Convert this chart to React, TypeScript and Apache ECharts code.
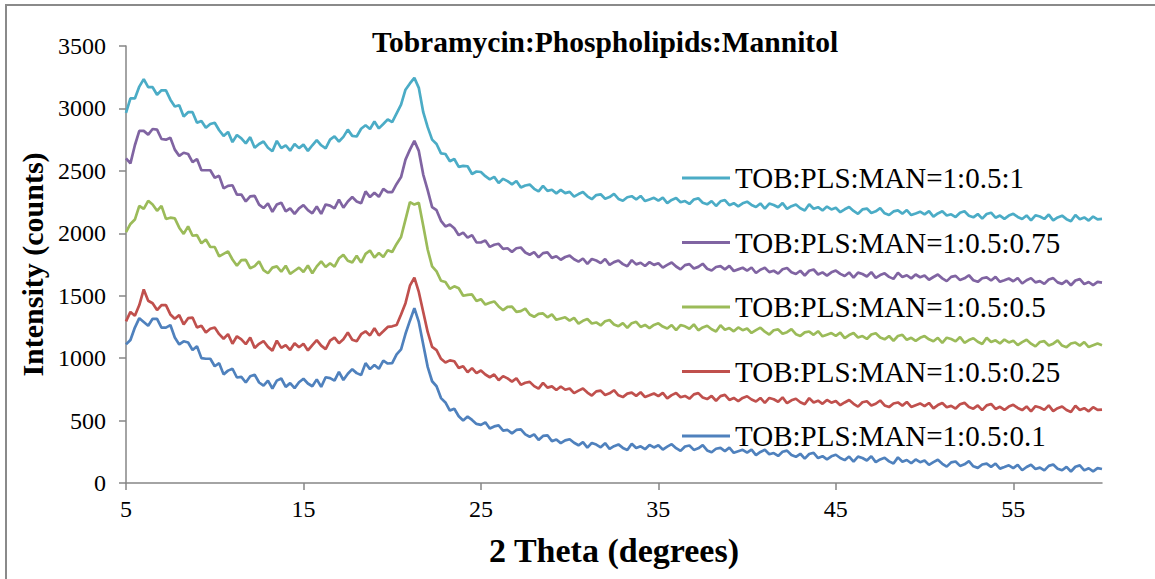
import React, { useEffect, useRef } from "react";
import * as echarts from "echarts";

const chartTitle = "Tobramycin:Phospholipids:Mannitol";
const xAxisTitle = "2 Theta (degrees)";
const yAxisTitle = "Intensity (counts)";
const xTickValues = [5, 15, 25, 35, 45, 55];
const yMin = 0;
const yMax = 3500;
const yStep = 500;
const thetaStart = 5;
const thetaStep = 0.25;

const seriesNames = [
  "TOB:PLS:MAN=1:0.5:0.1",
  "TOB:PLS:MAN=1:0.5:0.25",
  "TOB:PLS:MAN=1:0.5:0.5",
  "TOB:PLS:MAN=1:0.5:0.75",
  "TOB:PLS:MAN=1:0.5:1",
];
const legendOrder = [
  "TOB:PLS:MAN=1:0.5:1",
  "TOB:PLS:MAN=1:0.5:0.75",
  "TOB:PLS:MAN=1:0.5:0.5",
  "TOB:PLS:MAN=1:0.5:0.25",
  "TOB:PLS:MAN=1:0.5:0.1",
];
const seriesColors = ["#4F81BD", "#C0504D", "#9BBB59", "#8064A2", "#4BACC6"];

// intensity (counts), sampled every 0.25 degree from 5 to 60
const man01 = [
  1110,1145,1245,1320,1290,1260,1315,1315,1245,1245,1265,1165,1110,1135,1125,1065,1095,1000,995,995,
  935,960,870,900,915,845,850,805,855,867,805,780,820,757,820,837,770,800,760,807,
  835,797,775,830,770,847,840,820,890,825,875,912,880,865,960,912,945,915,980,957,
  960,1030,1070,1195,1300,1400,1290,1110,930,815,775,680,645,580,595,535,500,532,505,473,
  466,486,436,453,461,420,425,397,425,429,389,370,389,345,377,382,335,348,319,341,
  351,322,302,327,283,321,308,286,319,273,295,309,281,265,315,280,294,271,305,285,
  302,268,291,311,279,257,292,300,265,278,303,261,246,274,281,255,283,242,254,266,
  243,268,224,249,266,230,240,217,250,259,224,210,234,195,232,242,200,215,189,214,
  226,200,183,212,171,211,200,180,214,167,189,202,173,156,205,170,184,158,189,167,
  180,145,167,186,154,131,165,172,137,150,175,134,121,148,155,129,156,115,128,142,
  119,145,102,128,146,112,123,101,137,148,114,102,129,92,130,141,101,118,93,119,
  112,
];
const man025 = [
  1295,1370,1340,1425,1550,1460,1440,1385,1425,1425,1350,1315,1345,1270,1320,1325,1245,1260,1205,1235,
  1245,1192,1155,1192,1115,1175,1150,1112,1165,1082,1115,1137,1090,1060,1140,1082,1105,1065,1120,1087,
  1115,1062,1105,1145,1100,1072,1140,1165,1120,1152,1205,1147,1135,1192,1215,1182,1240,1182,1215,1250,
  1255,1265,1350,1440,1580,1645,1530,1370,1210,1090,1065,995,965,982,975,922,935,887,920,880,
  901,869,847,869,823,856,838,812,839,786,803,810,776,756,802,764,774,745,773,747,
  757,720,740,757,724,700,734,740,705,718,743,702,688,716,724,698,727,688,702,717,
  696,722,678,704,721,687,697,675,710,720,685,672,697,659,696,706,665,681,656,681,
  695,669,653,681,641,681,671,651,686,639,662,675,647,630,680,645,659,634,665,643,
  657,623,645,665,634,612,647,655,621,635,661,621,608,637,645,620,649,609,623,637,
  615,641,598,624,641,607,618,596,631,642,608,595,621,584,622,633,593,610,585,612,
  626,601,584,613,573,615,605,586,622,576,599,613,585,569,619,585,599,574,607,585,
  588,
];
const man05 = [
  2010,2075,2110,2220,2195,2260,2230,2180,2220,2115,2125,2120,2045,1995,2055,1980,1985,1920,1950,1890,
  1890,1815,1835,1855,1790,1740,1785,1787,1720,1737,1775,1705,1680,1725,1735,1692,1740,1675,1700,1725,
  1690,1742,1680,1735,1775,1730,1760,1732,1800,1827,1780,1767,1820,1765,1835,1862,1805,1842,1810,1865,
  1850,1915,1970,2110,2250,2230,2245,2060,1870,1735,1695,1620,1610,1555,1575,1560,1500,1507,1510,1457,
  1472,1429,1443,1454,1414,1384,1411,1412,1370,1377,1397,1350,1331,1355,1358,1327,1351,1307,1317,1327,
  1301,1323,1277,1299,1313,1277,1286,1262,1295,1305,1270,1256,1281,1243,1280,1291,1250,1266,1240,1266,
  1279,1253,1237,1265,1225,1265,1255,1235,1270,1223,1246,1259,1231,1214,1263,1228,1241,1215,1246,1224,
  1237,1202,1224,1244,1212,1189,1223,1230,1195,1208,1233,1192,1178,1206,1213,1187,1216,1175,1188,1201,
  1179,1204,1160,1185,1201,1166,1177,1154,1189,1199,1165,1151,1177,1139,1177,1187,1147,1163,1138,1163,
  1177,1151,1135,1163,1123,1164,1153,1134,1169,1123,1145,1159,1131,1114,1164,1129,1143,1117,1149,1126,
  1140,1105,1128,1147,1116,1094,1129,1136,1102,1116,1142,1101,1088,1117,1125,1100,1129,1089,1103,1117,
  1104,
];
const man075 = [
  2600,2560,2705,2820,2820,2790,2835,2830,2755,2750,2765,2670,2620,2645,2635,2570,2595,2505,2505,2505,
  2445,2460,2360,2380,2385,2310,2310,2255,2295,2300,2230,2202,2240,2172,2230,2245,2175,2200,2155,2200,
  2225,2185,2160,2215,2155,2231,2222,2200,2270,2205,2255,2290,2255,2240,2335,2290,2325,2292,2355,2330,
  2330,2395,2450,2590,2670,2740,2660,2470,2345,2210,2185,2100,2055,2070,2040,1985,2005,1965,1985,1927,
  1926,1943,1891,1908,1916,1875,1880,1851,1880,1886,1846,1828,1849,1807,1841,1847,1803,1816,1788,1810,
  1821,1792,1773,1798,1755,1794,1782,1761,1794,1747,1769,1782,1753,1736,1785,1751,1764,1738,1769,1747,
  1760,1725,1747,1766,1734,1711,1745,1753,1718,1731,1756,1716,1702,1730,1737,1711,1739,1698,1711,1724,
  1701,1726,1682,1708,1724,1689,1700,1677,1712,1722,1688,1674,1700,1662,1700,1710,1670,1687,1661,1687,
  1701,1675,1658,1686,1645,1685,1674,1654,1689,1643,1665,1679,1651,1635,1684,1650,1664,1639,1670,1648,
  1662,1628,1650,1670,1639,1617,1651,1659,1625,1639,1664,1624,1611,1640,1647,1622,1651,1611,1624,1638,
  1616,1642,1598,1624,1641,1607,1617,1595,1630,1641,1607,1595,1621,1584,1622,1633,1593,1610,1585,1611,
  1605,
];
const man1 = [
  2965,3080,3080,3175,3235,3170,3170,3110,3145,3145,3070,3015,3025,2935,2970,2970,2885,2900,2845,2875,
  2885,2825,2780,2812,2730,2787,2760,2720,2770,2685,2715,2735,2685,2657,2740,2682,2705,2662,2715,2682,
  2710,2660,2705,2747,2705,2680,2750,2777,2735,2772,2830,2780,2775,2837,2865,2835,2895,2840,2875,2912,
  2890,2960,3030,3150,3200,3245,3165,2970,2850,2750,2715,2640,2635,2577,2595,2532,2540,2537,2475,2495,
  2491,2457,2432,2452,2403,2436,2418,2392,2419,2366,2383,2390,2356,2335,2379,2340,2349,2320,2348,2322,
  2332,2294,2314,2330,2296,2273,2306,2312,2277,2290,2315,2275,2261,2289,2297,2271,2299,2258,2271,2284,
  2261,2286,2242,2267,2283,2248,2258,2235,2270,2280,2245,2232,2257,2219,2256,2266,2225,2241,2215,2240,
  2253,2227,2210,2239,2198,2238,2227,2208,2242,2195,2217,2230,2201,2183,2232,2196,2209,2183,2214,2191,
  2204,2169,2192,2211,2179,2156,2191,2198,2163,2176,2201,2160,2146,2175,2183,2157,2186,2146,2159,2173,
  2151,2177,2133,2159,2176,2142,2152,2130,2165,2176,2141,2128,2154,2117,2154,2165,2125,2142,2116,2142,
  2156,2131,2114,2143,2103,2144,2134,2115,2150,2104,2127,2141,2113,2097,2147,2113,2127,2102,2134,2112,
  2115,
];
const seriesValues = [man01, man025, man05, man075, man1];

const FONT = "'Liberation Serif', 'Times New Roman', serif";
const AXIS_GREY = "#868686";

export default function App() {
  const ref = useRef<HTMLDivElement>(null);

  useEffect(() => {
    if (!ref.current) return;
    const chart = echarts.init(ref.current, null, { renderer: "svg" });

    const series = seriesValues.map((vals, s) => ({
      name: seriesNames[s],
      type: "line",
      symbol: "none",
      showSymbol: false,
      data: vals.map((v, i) => [thetaStart + i * thetaStep, v]),
      lineStyle: { color: seriesColors[s], width: 2.7 },
      itemStyle: { color: seriesColors[s] },
      z: 2 + s,
    }));

    chart.setOption({
      animation: false,
      backgroundColor: "#ffffff",
      title: {
        text: chartTitle,
        left: 367,
        top: 22,
        textStyle: { fontFamily: FONT, fontSize: 29.5, fontWeight: "bold", color: "#000" },
      },
      legend: {
        orient: "vertical",
        left: 682,
        top: 163,
        padding: 0,
        icon: "rect",
        itemWidth: 48,
        itemHeight: 3,
        itemGap: 34.5,
        selectedMode: false,
        data: legendOrder,
        textStyle: { fontFamily: FONT, fontSize: 29, color: "#000", lineHeight: 30, height: 30 },
      },
      grid: { left: 126, right: 53, top: 46, bottom: 96, containLabel: false },
      xAxis: {
        type: "value",
        min: 5,
        max: 60,
        interval: 10,
        name: xAxisTitle,
        nameLocation: "middle",
        nameGap: 50,
        nameTextStyle: { fontFamily: FONT, fontSize: 34, fontWeight: "bold", color: "#000" },
        axisLine: { show: true, onZero: false, lineStyle: { color: AXIS_GREY, width: 1.5 } },
        axisTick: { show: true, length: 7, customValues: xTickValues, lineStyle: { color: AXIS_GREY, width: 1.5 } },
        axisLabel: { customValues: xTickValues, fontFamily: FONT, fontSize: 24, color: "#000", margin: 14 },
        splitLine: { show: false },
      },
      yAxis: {
        type: "value",
        min: yMin,
        max: yMax,
        interval: yStep,
        name: yAxisTitle,
        nameLocation: "middle",
        nameRotate: 90,
        nameGap: 70,
        nameTextStyle: { fontFamily: FONT, fontSize: 30, fontWeight: "bold", color: "#000" },
        axisLine: { show: true, lineStyle: { color: AXIS_GREY, width: 1.5 } },
        axisTick: { show: true, length: 7, lineStyle: { color: AXIS_GREY, width: 1.5 } },
        axisLabel: {
          fontFamily: FONT,
          fontSize: 24,
          color: "#000",
          margin: 20,
          formatter: (v: number) => String(v),
        },
        splitLine: { show: false },
      },
      graphic: [
        {
          type: "rect",
          silent: true,
          shape: { x: 6, y: 5, width: 1400, height: 800 },
          style: { fill: "none", stroke: "#8a8a8a", lineWidth: 2 },
        },
      ],
      series,
    });

    return () => chart.dispose();
  }, []);

  return (
    <div
      ref={ref}
      style={{ position: "absolute", left: 0, top: 0, width: 1155, height: 579, background: "#fff" }}
    />
  );
}
